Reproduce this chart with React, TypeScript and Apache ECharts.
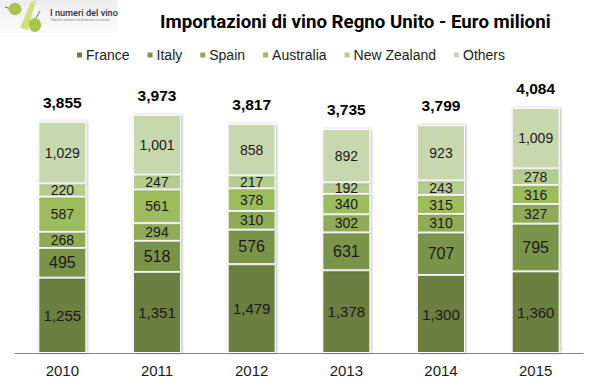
import React, { useEffect, useRef } from "react";
import * as echarts from "echarts";

const years = ["2010", "2011", "2012", "2013", "2014", "2015"];
const france = [1255, 1351, 1479, 1378, 1300, 1360];
const italy = [495, 518, 576, 631, 707, 795];
const spain = [268, 294, 310, 302, 310, 327];
const australia = [587, 561, 378, 340, 315, 316];
const newZealand = [220, 247, 217, 192, 243, 278];
const others = [1029, 1001, 858, 892, 923, 1009];
const totals = [3855, 3973, 3817, 3735, 3799, 4084];

const FONT = "'Liberation Sans', Arial, sans-serif";
const fmt = (p: any) => Number(p.value).toLocaleString("en-US");

function bar(name: string, data: number[], color: string, size: number) {
  return {
    name,
    type: "bar",
    stack: "t",
    data,
    barWidth: 48,
    itemStyle: {
      color,
      borderColor: "#ffffff",
      borderWidth: 1,
      shadowColor: "rgba(0,0,0,0.3)",
      shadowBlur: 3,
      shadowOffsetX: 1,
      shadowOffsetY: 0,
    },
    label: {
      show: true,
      position: "inside",
      formatter: fmt,
      color: "#1a1a1a",
      fontFamily: FONT,
      fontSize: size,
    },
  };
}

export default function App() {
  const ref = useRef<HTMLDivElement>(null);
  useEffect(() => {
    const chart = echarts.init(ref.current!, null, { renderer: "svg" });
    chart.setOption({
      animation: false,
      backgroundColor: "#ffffff",
      title: {
        text: "Importazioni di vino Regno Unito - Euro milioni",
        left: 155,
        top: 7,
        textStyle: {
          fontFamily: "Roboto, sans-serif",
          fontSize: 18.7,
          fontWeight: "bold",
          color: "#000000",
        },
      },
      legend: {
        data: ["France", "Italy", "Spain", "Australia", "New Zealand", "Others"],
        top: 43,
        left: 70,
        itemWidth: 7,
        itemHeight: 7,
        itemGap: 16,
        icon: "rect",
        textStyle: { fontFamily: FONT, fontSize: 14, color: "#222222", padding: [0, 0, 0, -2] },
      },
      grid: { left: 15, right: 15, top: 83, bottom: 36 },
      xAxis: {
        type: "category",
        data: years,
        axisTick: { show: false },
        axisLine: { lineStyle: { color: "#868686", width: 1 } },
        axisLabel: { fontFamily: FONT, fontSize: 15, color: "#1a1a1a", margin: 10 },
      },
      yAxis: { type: "value", min: 0, max: 4500, show: false, splitLine: { show: false } },
      series: [
        bar("France", france, "#6b7f3f", 15),
        bar("Italy", italy, "#7a9549", 16),
        bar("Spain", spain, "#8fab55", 14),
        bar("Australia", australia, "#9dbd5d", 14),
        bar("New Zealand", newZealand, "#b4cc8e", 14),
        bar("Others", others, "#c8d8ae", 14),
        {
          name: "Total",
          type: "line",
          data: totals,
          symbol: "circle",
          symbolSize: 1,
          showSymbol: true,
          showAllSymbol: true,
          itemStyle: { color: "rgba(0,0,0,0)" },
          lineStyle: { width: 0, color: "rgba(0,0,0,0)" },
          label: {
            show: true,
            position: "top",
            distance: 11,
            formatter: fmt,
            fontFamily: FONT,
            fontSize: 15.5,
            fontWeight: "bold",
            color: "#000000",
          },
        },
      ],
      graphic: [
        {
          type: "group",
          children: [
            {
              type: "rect",
              shape: { x: 0, y: 0, width: 117, height: 33 },
              style: {
                fill: new echarts.graphic.LinearGradient(0, 0, 0, 1, [
                  { offset: 0, color: "#eeeeee" },
                  { offset: 1, color: "#fbfbfb" },
                ]),
              },
            },
            { type: "polygon", shape: { points: [[20, 28], [31, 2], [36, 0], [28, 30]] }, style: { fill: "#d2e07c" } },
            { type: "line", shape: { x1: 5, y1: 7, x2: 11, y2: 9 }, style: { stroke: "#7a6a4a", lineWidth: 1 } },
            { type: "line", shape: { x1: 40, y1: 11, x2: 36, y2: 18 }, style: { stroke: "#7a6a4a", lineWidth: 1 } },
            { type: "ellipse", shape: { cx: 15, cy: 9, rx: 6.5, ry: 6 }, style: { fill: "#a9c44c" } },
            { type: "ellipse", shape: { cx: 35, cy: 25, rx: 6, ry: 7 }, style: { fill: "#a9c44c" } },
            { type: "text", x: 50, y: 8, style: { text: "I numeri del vino", fontFamily: "Roboto, sans-serif", fontSize: 9.2, fontWeight: 500, fill: "#333333" } },
            { type: "text", x: 51, y: 19, style: { text: "Statistiche produttive, dati di mercato e di consumo", fontFamily: FONT, fontSize: 2.6, fill: "#777777" } },
          ],
        },
      ],
    });
    return () => chart.dispose();
  }, []);
  return <div ref={ref} style={{ position: "absolute", left: 0, top: 0, width: 598, height: 389 }} />;
}
